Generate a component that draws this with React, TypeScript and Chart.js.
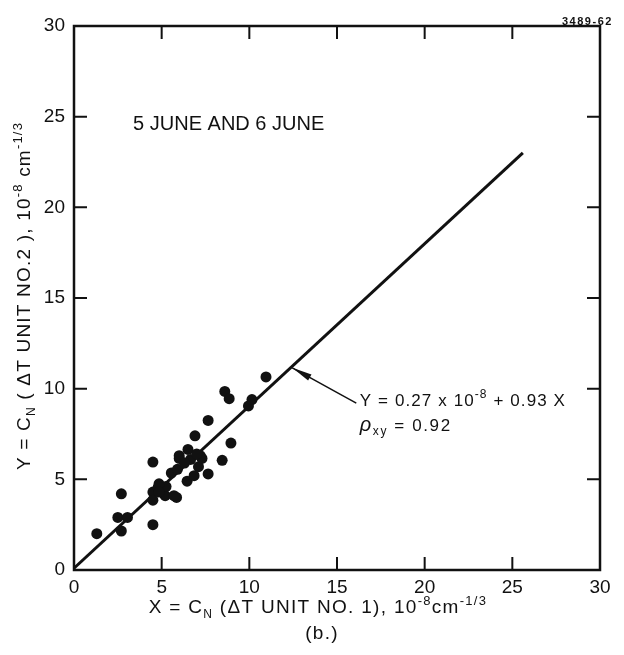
import React, { useEffect, useRef } from "react";
import { Chart, registerables } from "chart.js";

Chart.register(...registerables);

// ---- data ----
const X_VALUES = [
  1.3, 2.7, 2.5, 3.05, 2.7, 4.5, 4.5, 4.5, 4.5, 4.8, 5.2, 5.25, 5.55, 5.85, 6.0,
  6.5, 6.45, 6.65, 6.85, 6.9, 7.1, 7.3, 7.65, 7.65, 8.45, 8.95, 8.6, 8.85, 9.95,
  10.15, 10.95, 6.0, 7.2, 4.85, 5.7, 5.9, 6.3, 7.0, 4.85,
];
const Y_VALUES = [
  2.0, 4.2, 2.9, 2.9, 2.15, 5.95, 4.3, 3.85, 2.5, 4.55, 4.1, 4.6, 5.35, 4.0, 6.15,
  6.65, 4.9, 6.1, 5.2, 7.4, 5.7, 6.15, 8.25, 5.3, 6.05, 7.0, 9.85, 9.45, 9.05,
  9.4, 10.65, 6.3, 6.3, 4.75, 4.1, 5.55, 5.9, 6.4, 4.3,
];
const FIT_X = [0, 25.6];
const FIT_Y = [0.1, 23.0];
const AXIS_MIN = 0;
const AXIS_MAX = 30;
const AXIS_STEP = 5;
const TICK_VALUES = [0, 5, 10, 15, 20, 25, 30];

const INK = "#111";
const FONT = "'Liberation Sans', Arial, sans-serif";

type Part = { t: string; s: number; dy?: number; style?: string };

function setFont(ctx: CanvasRenderingContext2D, p: Part) {
  ctx.font = `${p.style || ""} ${p.s}px ${FONT}`;
}

function richWidth(ctx: CanvasRenderingContext2D, parts: Part[], ls: number) {
  let w = 0;
  for (const p of parts) {
    setFont(ctx, p);
    w += ctx.measureText(p.t).width + ls * p.t.length;
  }
  return w;
}

function drawRich(
  ctx: CanvasRenderingContext2D,
  parts: Part[],
  x: number,
  y: number,
  align: "left" | "center",
  ls = 0
) {
  (ctx as any).letterSpacing = "0px";
  let cx = align === "center" ? x - richWidth(ctx, parts, ls) / 2 : x;
  ctx.textAlign = "left";
  ctx.textBaseline = "alphabetic";
  for (const p of parts) {
    setFont(ctx, p);
    for (const ch of p.t) {
      ctx.fillText(ch, cx, y + (p.dy || 0));
      cx += ctx.measureText(ch).width + ls;
    }
  }
}

const decorPlugin = {
  id: "decor",
  afterDraw(chart: any) {
    const { ctx, chartArea, scales } = chart;
    const { left, right, top, bottom } = chartArea;
    const xs = scales.x;
    const ys = scales.y;
    ctx.save();
    ctx.strokeStyle = INK;
    ctx.fillStyle = INK;
    // frame
    ctx.lineWidth = 2.5;
    ctx.strokeRect(left, top, right - left, bottom - top);
    // inward ticks on all four sides
    ctx.lineWidth = 2;
    const L = 13;
    for (const v of TICK_VALUES) {
      if (v <= AXIS_MIN || v >= AXIS_MAX) continue;
      const px = xs.getPixelForValue(v);
      const py = ys.getPixelForValue(v);
      ctx.beginPath();
      ctx.moveTo(px, bottom);
      ctx.lineTo(px, bottom - L);
      ctx.moveTo(px, top);
      ctx.lineTo(px, top + L);
      ctx.moveTo(left, py);
      ctx.lineTo(left + L, py);
      ctx.moveTo(right, py);
      ctx.lineTo(right - L, py);
      ctx.stroke();
    }

    // x axis title
    const xTitle: Part[] = [
      { t: "X = C", s: 19 },
      { t: "N", s: 12, dy: 5 },
      { t: " (ΔT UNIT NO. 1), 10", s: 19 },
      { t: "-8", s: 13, dy: -8 },
      { t: "cm", s: 19 },
      { t: "-1/3", s: 13, dy: -8 },
    ];
    drawRich(ctx, xTitle, 318, 613, "center", 1.3);
    drawRich(ctx, [{ t: "(b.)", s: 19 }], 322, 639, "center", 1.3);

    // y axis title (rotated)
    const yTitle: Part[] = [
      { t: "Y = C", s: 19 },
      { t: "N", s: 12, dy: 5 },
      { t: " ( ΔT UNIT NO.2 ), 10", s: 19 },
      { t: "-8", s: 13, dy: -8 },
      { t: " cm", s: 19 },
      { t: "-1/3", s: 13, dy: -8 },
    ];
    ctx.save();
    ctx.translate(30, 296);
    ctx.rotate(-Math.PI / 2);
    drawRich(ctx, yTitle, 0, 0, "center", 1.2);
    ctx.restore();

    // labels inside the plot
    drawRich(
      ctx,
      [{ t: "5 JUNE AND 6 JUNE", s: 20 }],
      xs.getPixelForValue(3.37),
      ys.getPixelForValue(24.27),
      "left"
    );

    const ex = xs.getPixelForValue(16.3);
    drawRich(
      ctx,
      [
        { t: "Y = 0.27 x 10", s: 17 },
        { t: "-8", s: 12, dy: -8 },
        { t: " + 0.93 X", s: 17 },
      ],
      ex,
      ys.getPixelForValue(9.05),
      "left",
      1.1
    );
    drawRich(
      ctx,
      [
        { t: "ρ", s: 20, style: "italic" },
        { t: "xy", s: 12, dy: 4 },
        { t: " = 0.92", s: 17 },
      ],
      ex,
      ys.getPixelForValue(7.67),
      "left",
      1.6
    );

    // arrow from the equation to the fitted line
    const tx = xs.getPixelForValue(12.45);
    const ty = ys.getPixelForValue(11.15);
    const sx = xs.getPixelForValue(16.1);
    const sy = ys.getPixelForValue(9.2);
    ctx.lineWidth = 1.5;
    ctx.beginPath();
    ctx.moveTo(sx, sy);
    ctx.lineTo(tx, ty);
    ctx.stroke();
    const ang = Math.atan2(ty - sy, tx - sx);
    const hl = 20;
    const hw = 3.5;
    ctx.beginPath();
    ctx.moveTo(tx, ty);
    ctx.lineTo(
      tx - hl * Math.cos(ang) + hw * Math.sin(ang),
      ty - hl * Math.sin(ang) - hw * Math.cos(ang)
    );
    ctx.lineTo(
      tx - hl * Math.cos(ang) - hw * Math.sin(ang),
      ty - hl * Math.sin(ang) + hw * Math.cos(ang)
    );
    ctx.closePath();
    ctx.fill();

    // figure id
    drawRich(ctx, [{ t: "3489-62", s: 11, style: "bold" }], 562, 25, "left", 1.5);
    ctx.restore();
  },
};

export default function App() {
  const ref = useRef<HTMLCanvasElement | null>(null);

  useEffect(() => {
    if (!ref.current) return;
    const points = X_VALUES.map((x, i) => ({ x, y: Y_VALUES[i] }));
    const fit = FIT_X.map((x, i) => ({ x, y: FIT_Y[i] }));
    const chart = new Chart(ref.current, {
      type: "scatter",
      data: {
        datasets: [
          {
            label: "fit",
            data: fit,
            showLine: true,
            borderColor: INK,
            borderWidth: 3,
            pointRadius: 0,
            order: 2,
          } as any,
          {
            label: "data",
            data: points,
            backgroundColor: INK,
            borderColor: INK,
            pointRadius: 5.5,
            borderWidth: 0,
            order: 1,
          },
        ],
      },
      options: {
        animation: false,
        responsive: true,
        maintainAspectRatio: false,
        layout: { padding: { left: 0, right: 24, top: 26, bottom: 0 } },
        plugins: {
          legend: { display: false },
          tooltip: { enabled: false },
        },
        scales: {
          x: {
            type: "linear",
            min: AXIS_MIN,
            max: AXIS_MAX,
            grid: { display: false, drawTicks: false },
            border: { display: false },
            ticks: {
              stepSize: AXIS_STEP,
              color: INK,
              padding: 6,
              font: { family: FONT, size: 19 },
              maxRotation: 0,
            },
            afterFit: (s: any) => {
              s.height = 85;
            },
          },
          y: {
            type: "linear",
            min: AXIS_MIN,
            max: AXIS_MAX,
            grid: { display: false, drawTicks: false },
            border: { display: false },
            ticks: {
              stepSize: AXIS_STEP,
              color: INK,
              padding: 9,
              font: { family: FONT, size: 19 },
            },
            afterFit: (s: any) => {
              s.width = 74;
            },
          },
        },
      },
      plugins: [decorPlugin],
    });
    return () => chart.destroy();
  }, []);

  return (
    <div
      style={{
        position: "absolute",
        left: 0,
        top: 0,
        width: 624,
        height: 655,
        background: "#fff",
      }}
    >
      <canvas ref={ref} />
    </div>
  );
}
